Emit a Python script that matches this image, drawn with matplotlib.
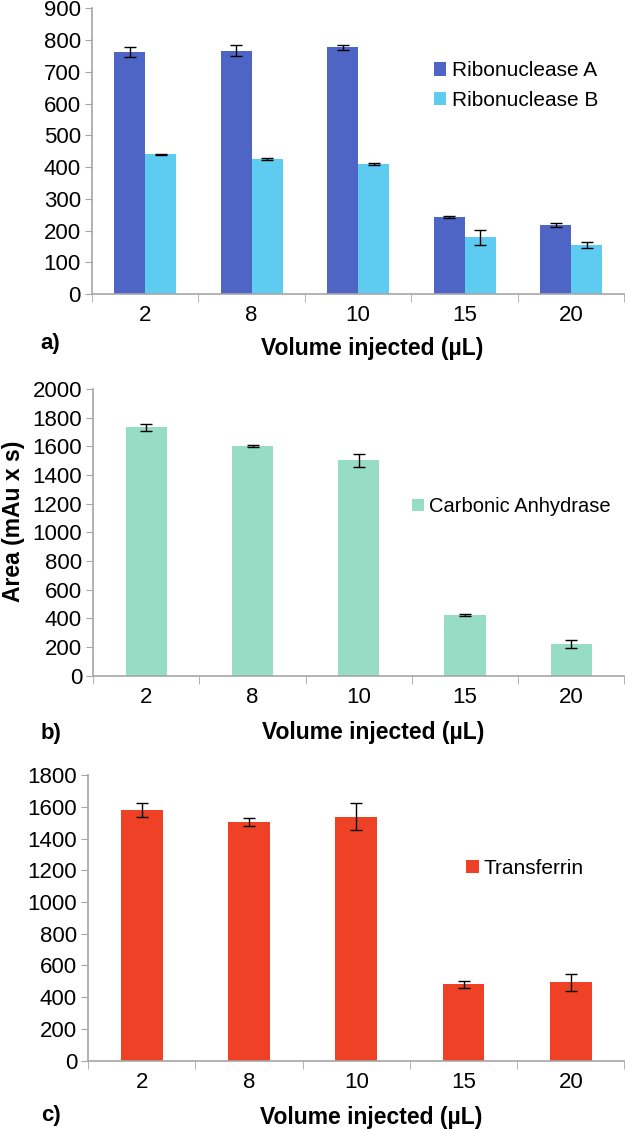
import matplotlib.pyplot as plt
import numpy as np

plt.rcParams['font.family'] = ['Liberation Sans', 'DejaVu Sans']

volumes = ["2", "8", "10", "15", "20"]

# panel a
ribo_a = [762, 767, 777, 243, 218]
ribo_a_err = [15, 17, 8, 4, 6]
ribo_b = [440, 425, 410, 178, 154]
ribo_b_err = [2, 2, 2, 23, 10]

# panel b
carbonic = [1733, 1600, 1502, 423, 219]
carbonic_err = [24, 8, 43, 10, 29]

# panel c
transferrin = [1580, 1506, 1538, 482, 494]
transferrin_err = [45, 24, 83, 23, 55]

fig = plt.figure(figsize=(6.25, 11.29), dpi=100)
x = np.arange(len(volumes))
err_kw = dict(ecolor="black", elinewidth=1.0, capsize=4.5, capthick=1.0)
axis_col = "#a6a6a6"


def style_axis(ax, ymax, step, label_y):
    ax.set_xlim(-0.5, len(volumes) - 0.5)
    ax.set_ylim(0, ymax)
    ax.set_yticks(np.arange(0, ymax + 1, step))
    ax.set_xticks(x)
    ax.set_xticklabels(volumes)
    ax.set_xticks(np.arange(-0.5, len(volumes)), minor=True)
    ax.tick_params(axis="x", which="major", length=0, pad=8, labelsize=16)
    ax.tick_params(axis="x", which="minor", length=6, color=axis_col, direction="out")
    ax.tick_params(axis="y", length=5, color=axis_col, labelsize=16, pad=3)
    for s in ["top", "right"]:
        ax.spines[s].set_visible(False)
    for s in ["left", "bottom"]:
        ax.spines[s].set_color(axis_col)
        ax.spines[s].set_linewidth(1.2)
    ax.set_xlabel("Volume injected (µL)", fontsize=16.5, fontweight="bold")
    ax.xaxis.set_label_coords(0.527, label_y)


# a)
ax1 = fig.add_axes([0.147, 0.7396, 0.852, 0.253])
w = 0.29
ax1.bar(x - w / 2, ribo_a, w, yerr=ribo_a_err, color="#4f65c6", label="Ribonuclease A", error_kw=err_kw)
ax1.bar(x + w / 2, ribo_b, w, yerr=ribo_b_err, color="#5ecbf1", label="Ribonuclease B", error_kw=err_kw)
style_axis(ax1, 900, 100, -0.15)
ax1.legend(loc="upper left", bbox_to_anchor=(0.607, 0.88), frameon=False, fontsize=15,
           handlelength=0.6, handleheight=0.6, handletextpad=0.25, labelspacing=0.5)
fig.text(0.065, 0.696, "a)", fontsize=16, fontweight="bold", ha="left", va="center")

# b)
ax2 = fig.add_axes([0.149, 0.4015, 0.85, 0.254])
ax2.bar(x, carbonic, 0.39, yerr=carbonic_err, color="#97dcc4", label="Carbonic Anhydrase", error_kw=err_kw)
style_axis(ax2, 2000, 200, -0.158)
ax2.set_ylabel("Area (mAu x s)", fontsize=16.5, fontweight="bold")
ax2.yaxis.set_label_coords(-0.128, 0.54)
ax2.legend(loc="center left", bbox_to_anchor=(0.566, 0.59), frameon=False, fontsize=14.5,
           handlelength=0.6, handleheight=0.6, handletextpad=0.25)
fig.text(0.065, 0.35, "b)", fontsize=16, fontweight="bold", ha="left", va="center")

# c)
ax3 = fig.add_axes([0.141, 0.0605, 0.858, 0.253])
ax3.bar(x, transferrin, 0.39, yerr=transferrin_err, color="#ee4125", label="Transferrin", error_kw=err_kw)
style_axis(ax3, 1800, 200, -0.158)
ax3.legend(loc="center left", bbox_to_anchor=(0.67, 0.674), frameon=False, fontsize=15,
           handlelength=0.6, handleheight=0.6, handletextpad=0.25)
fig.text(0.065, 0.012, "c)", fontsize=16, fontweight="bold", ha="left", va="center")

fig.savefig("out.png", dpi=100)
